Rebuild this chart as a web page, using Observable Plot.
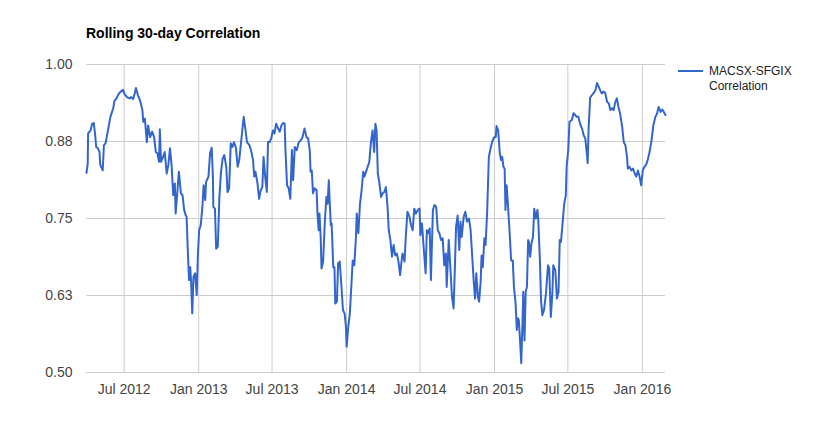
<!DOCTYPE html>
<html><head><meta charset="utf-8">
<script src="https://cdn.jsdelivr.net/npm/d3@7"></script>
<script src="https://cdn.jsdelivr.net/npm/@observablehq/plot@0.6"></script>
<style>
body{margin:0;background:#fff;font-family:Arial,"Liberation Sans",sans-serif;}
#wrap{position:relative;width:828px;height:431px;overflow:hidden;background:#fff;}
#title{height:50px;box-sizing:border-box;padding:25px 0 0 86px;font-size:14px;font-weight:bold;line-height:16px;color:#000;}
#swatch{position:absolute;left:678px;top:70px;width:25px;height:2px;background:#3366cc;}
#legtext{position:absolute;left:709px;top:64px;font-size:12px;line-height:15px;color:#222;}
#chart svg{display:block;}
</style>
</head><body>
<div id="wrap">
  <div id="title">Rolling 30-day Correlation</div>
  <div id="chart"></div>
  <div id="swatch"></div>
  <div id="legtext">MACSX-SFGIX<br>Correlation</div>
</div>
<script>
const seriesName = "MACSX-SFGIX Correlation";
const dates = [
"2012-03-30","2012-04-02","2012-04-03","2012-04-09","2012-04-13","2012-04-17","2012-04-20","2012-04-23","2012-04-27","2012-05-01",
"2012-05-03","2012-05-09","2012-05-12","2012-05-16","2012-05-22","2012-05-28","2012-06-04","2012-06-07","2012-06-12","2012-06-18",
"2012-06-23","2012-06-28","2012-07-02","2012-07-08","2012-07-14","2012-07-18","2012-07-23","2012-07-27","2012-07-30","2012-08-04",
"2012-08-09","2012-08-15","2012-08-17","2012-08-21","2012-08-26","2012-08-29","2012-09-03","2012-09-08","2012-09-13","2012-09-17",
"2012-09-21","2012-09-25","2012-09-27","2012-09-30","2012-10-05","2012-10-09","2012-10-14","2012-10-18","2012-10-22","2012-10-26",
"2012-10-30","2012-11-03","2012-11-05","2012-11-09","2012-11-13","2012-11-18","2012-11-22","2012-11-26","2012-11-30","2012-12-02",
"2012-12-05","2012-12-08","2012-12-11","2012-12-13","2012-12-16","2012-12-19","2012-12-23","2012-12-27","2012-12-30","2013-01-02",
"2013-01-06","2013-01-10","2013-01-13","2013-01-17","2013-01-19","2013-01-25","2013-01-29","2013-02-02","2013-02-05","2013-02-06",
"2013-02-10","2013-02-13","2013-02-17","2013-02-21","2013-02-25","2013-03-01","2013-03-05","2013-03-10","2013-03-13","2013-03-17",
"2013-03-21","2013-03-25","2013-03-29","2013-04-03","2013-04-07","2013-04-11","2013-04-16","2013-04-22","2013-04-26","2013-04-30",
"2013-05-06","2013-05-10","2013-05-15","2013-05-18","2013-05-21","2013-05-26","2013-05-30","2013-06-03","2013-06-07","2013-06-10",
"2013-06-14","2013-06-18","2013-06-21","2013-06-25","2013-06-29","2013-07-03","2013-07-07","2013-07-11","2013-07-16","2013-07-20",
"2013-07-24","2013-07-28","2013-08-01","2013-08-03","2013-08-07","2013-08-11","2013-08-15","2013-08-19","2013-08-22","2013-08-26",
"2013-08-31","2013-09-05","2013-09-10","2013-09-14","2013-09-19","2013-09-24","2013-09-28","2013-10-02","2013-10-04","2013-10-07",
"2013-10-10","2013-10-14","2013-10-19","2013-10-21","2013-10-24","2013-10-26","2013-10-29","2013-10-31","2013-11-04","2013-11-08",
"2013-11-12","2013-11-15","2013-11-18","2013-11-20","2013-11-23","2013-11-25","2013-11-29","2013-12-02","2013-12-04","2013-12-08",
"2013-12-11","2013-12-15","2013-12-19","2013-12-23","2013-12-27","2013-12-30","2014-01-01","2014-01-05","2014-01-09","2014-01-13",
"2014-01-16","2014-01-20","2014-01-24","2014-01-26","2014-01-30","2014-02-03","2014-02-07","2014-02-11","2014-02-14","2014-02-18",
"2014-02-22","2014-02-26","2014-03-02","2014-03-06","2014-03-10","2014-03-13","2014-03-16","2014-03-19","2014-03-23","2014-03-27",
"2014-03-31","2014-04-04","2014-04-08","2014-04-12","2014-04-15","2014-04-19","2014-04-23","2014-04-27","2014-05-01","2014-05-05",
"2014-05-09","2014-05-13","2014-05-16","2014-05-19","2014-05-24","2014-05-27","2014-05-31","2014-06-05","2014-06-09","2014-06-13",
"2014-06-17","2014-06-21","2014-06-26","2014-06-30","2014-07-02","2014-07-06","2014-07-10","2014-07-15","2014-07-18","2014-07-21",
"2014-07-25","2014-07-28","2014-08-02","2014-08-06","2014-08-10","2014-08-14","2014-08-18","2014-08-22","2014-08-26","2014-08-30",
"2014-09-03","2014-09-05","2014-09-10","2014-09-14","2014-09-18","2014-09-22","2014-09-25","2014-09-28","2014-10-02","2014-10-06",
"2014-10-09","2014-10-12","2014-10-17","2014-10-21","2014-10-25","2014-10-30","2014-11-03","2014-11-07","2014-11-11","2014-11-14",
"2014-11-17","2014-11-21","2014-11-24","2014-11-28","2014-11-30","2014-12-03","2014-12-07","2014-12-10","2014-12-14","2014-12-18",
"2014-12-23","2014-12-26","2014-12-31","2015-01-04","2015-01-06","2015-01-10","2015-01-14","2015-01-17","2015-01-20","2015-01-23",
"2015-01-26","2015-01-28","2015-01-31","2015-02-03","2015-02-07","2015-02-11","2015-02-15","2015-02-18","2015-02-22","2015-02-25",
"2015-02-28","2015-03-02","2015-03-05","2015-03-08","2015-03-11","2015-03-13","2015-03-16","2015-03-19","2015-03-22","2015-03-25",
"2015-03-27","2015-03-30","2015-04-02","2015-04-06","2015-04-09","2015-04-13","2015-04-17","2015-04-19","2015-04-23","2015-04-26",
"2015-04-29","2015-05-03","2015-05-08","2015-05-13","2015-05-16","2015-05-20","2015-05-24","2015-05-26","2015-05-31","2015-06-04",
"2015-06-08","2015-06-11","2015-06-14","2015-06-18","2015-06-22","2015-06-26","2015-06-28","2015-07-02","2015-07-05","2015-07-11",
"2015-07-15","2015-07-19","2015-07-23","2015-07-27","2015-07-31","2015-08-05","2015-08-09","2015-08-13","2015-08-16","2015-08-19",
"2015-08-21","2015-08-25","2015-08-29","2015-09-02","2015-09-07","2015-09-11","2015-09-15","2015-09-19","2015-09-23","2015-09-27",
"2015-10-01","2015-10-06","2015-10-10","2015-10-14","2015-10-18","2015-10-22","2015-10-26","2015-10-30","2015-11-03","2015-11-07",
"2015-11-12","2015-11-16","2015-11-20","2015-11-24","2015-11-26","2015-11-30","2015-12-05","2015-12-09","2015-12-13","2015-12-17",
"2015-12-21","2015-12-25","2015-12-29","2016-01-02","2016-01-06","2016-01-10","2016-01-14","2016-01-18","2016-01-23","2016-01-25",
"2016-01-28","2016-02-02","2016-02-06","2016-02-10","2016-02-15","2016-02-19","2016-02-23","2016-02-27"
];
const correlation = [
0.824,0.839,0.888,0.893,0.904,0.905,0.888,0.866,0.864,0.858,
0.837,0.828,0.869,0.872,0.893,0.915,0.929,0.941,0.945,0.953,
0.956,0.959,0.952,0.947,0.945,0.947,0.944,0.953,0.962,0.950,
0.942,0.926,0.907,0.912,0.874,0.901,0.882,0.891,0.882,0.858,
0.856,0.842,0.895,0.842,0.850,0.858,0.823,0.837,0.864,0.837,
0.788,0.807,0.758,0.791,0.826,0.791,0.788,0.764,0.755,0.753,
0.699,0.650,0.671,0.650,0.596,0.655,0.661,0.626,0.693,0.731,
0.739,0.769,0.804,0.780,0.809,0.818,0.856,0.865,0.818,0.769,
0.766,0.701,0.704,0.785,0.826,0.847,0.853,0.834,0.793,0.799,
0.872,0.866,0.874,0.864,0.834,0.845,0.877,0.915,0.896,0.874,
0.869,0.861,0.845,0.818,0.826,0.807,0.782,0.796,0.801,0.850,
0.818,0.793,0.874,0.874,0.880,0.893,0.888,0.904,0.896,0.891,
0.901,0.905,0.904,0.861,0.804,0.799,0.782,0.861,0.812,0.866,
0.861,0.874,0.877,0.882,0.896,0.882,0.880,0.861,0.826,0.828,
0.791,0.799,0.796,0.758,0.731,0.758,0.720,0.669,0.680,0.742,
0.785,0.774,0.812,0.780,0.739,0.742,0.671,0.671,0.612,0.615,
0.677,0.680,0.642,0.601,0.596,0.577,0.542,0.574,0.596,0.645,
0.682,0.674,0.720,0.758,0.726,0.774,0.796,0.826,0.818,0.826,
0.834,0.842,0.874,0.893,0.858,0.904,0.893,0.823,0.807,0.785,
0.791,0.793,0.801,0.769,0.731,0.715,0.688,0.707,0.690,0.693,
0.680,0.658,0.677,0.693,0.680,0.720,0.761,0.753,0.739,0.731,
0.766,0.758,0.764,0.766,0.723,0.742,0.704,0.661,0.731,0.726,
0.734,0.650,0.764,0.772,0.769,0.731,0.726,0.715,0.718,0.674,
0.693,0.639,0.715,0.671,0.623,0.604,0.666,0.736,0.755,0.699,
0.745,0.720,0.753,0.761,0.745,0.750,0.731,0.688,0.645,0.620,
0.661,0.623,0.615,0.650,0.690,0.671,0.718,0.707,0.764,0.850,
0.866,0.874,0.882,0.882,0.900,0.893,0.856,0.845,0.850,0.834,
0.831,0.764,0.804,0.774,0.731,0.682,0.682,0.639,0.612,0.569,
0.588,0.585,0.552,0.515,0.580,0.631,0.552,0.631,0.639,0.715,
0.712,0.688,0.709,0.720,0.766,0.750,0.764,0.747,0.682,0.615,
0.593,0.601,0.628,0.674,0.669,0.590,0.631,0.674,0.666,0.620,
0.631,0.715,0.712,0.742,0.774,0.788,0.834,0.861,0.907,0.910,
0.921,0.918,0.915,0.915,0.904,0.896,0.885,0.880,0.861,0.840,
0.893,0.946,0.950,0.953,0.958,0.970,0.964,0.958,0.953,0.956,
0.954,0.939,0.937,0.926,0.929,0.926,0.939,0.945,0.931,0.920,
0.899,0.874,0.869,0.850,0.831,0.834,0.828,0.831,0.823,0.818,
0.828,0.818,0.804,0.828,0.834,0.837,0.845,0.856,0.874,0.885,
0.901,0.915,0.920,0.931,0.923,0.927,0.923,0.918
];
const yTicks = [0.5, 0.625, 0.75, 0.875, 1.0];
const yTickLabels = ["0.50", "0.63", "0.75", "0.88", "1.00"];
const xTickDates = ["2012-07-01","2013-01-01","2013-07-01","2014-01-01","2014-07-01","2015-01-01","2015-07-01","2016-01-01"];
const xTickLabels = ["Jul 2012","Jan 2013","Jul 2013","Jan 2014","Jul 2014","Jan 2015","Jul 2015","Jan 2016"];

const parse = s => new Date(s + "T00:00:00Z");
const data = dates.map((d, i) => ({date: parse(d), value: correlation[i], series: seriesName}));
const xTicks = xTickDates.map(parse);

const chart = Plot.plot({
  width: 828,
  height: 381,
  marginTop: 14,
  marginBottom: 59,
  marginLeft: 86,
  marginRight: 163,
  style: {fontFamily: 'Arial, "Liberation Sans", sans-serif', fontSize: "14px", color: "#444", background: "#fff", overflow: "visible"},
  x: {type: "utc"},
  y: {domain: [0.5, 1.0]},
  marks: [
    Plot.gridY(yTicks, {stroke: "#cccccc", strokeOpacity: 1}),
    Plot.gridX(xTicks, {stroke: "#cccccc", strokeOpacity: 1}),
    Plot.axisY(yTicks, {tickSize: 0, tickPadding: 14, label: null, fill: "#444",
      tickFormat: d => yTickLabels[yTicks.indexOf(d)]}),
    Plot.axisX(xTicks, {tickSize: 0, tickPadding: 12, label: null, fill: "#444",
      tickFormat: d => xTickLabels[xTicks.findIndex(t => +t === +d)]}),
    Plot.lineY(data, {x: "date", y: "value", stroke: "#3366cc", strokeWidth: 2})
  ]
});
document.getElementById("chart").appendChild(chart);
</script>
</body></html>
